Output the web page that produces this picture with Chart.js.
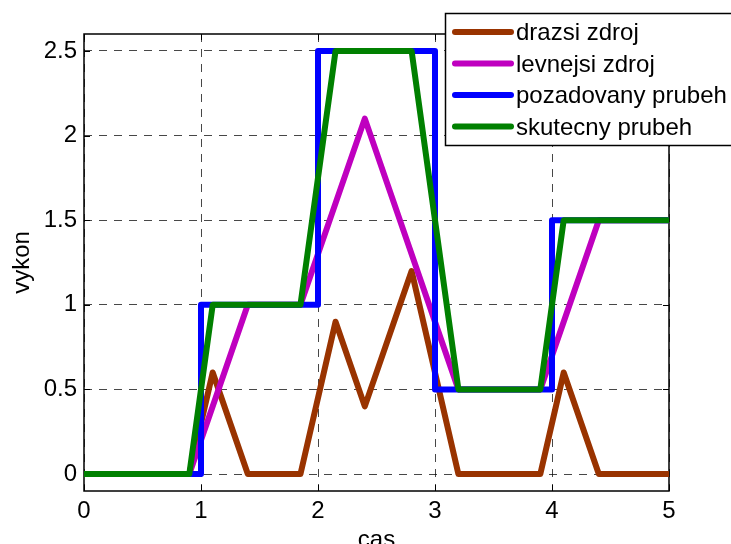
<!DOCTYPE html>
<html>
<head>
<meta charset="utf-8">
<script src="https://cdn.jsdelivr.net/npm/chart.js@4"></script>
<style>
  html, body { margin: 0; padding: 0; background: #fff; overflow: hidden; }
  #wrap { width: 731px; height: 560px; }
</style>
</head>
<body>
<div id="wrap"><canvas id="line-chart" width="731" height="560"></canvas></div>
<script>
// casove okamziky a hodnoty vykonu jednotlivych prubehu
const casDrazsi = [0, 0.9, 1.1, 1.4, 1.85, 2.15, 2.4, 2.8, 3.2, 3.9, 4.1, 4.4, 5]
const drazsiZdroj = [0, 0, 0.6, 0, 0, 0.9, 0.4, 1.2, 0, 0, 0.6, 0, 0]

const casLevnejsi = [0, 0.9, 1.4, 1.85, 2.4, 3.2, 3.9, 4.4, 5]
const levnejsiZdroj = [0, 0, 1, 1, 2.1, 0.5, 0.5, 1.5, 1.5]

const casPozadovany = [0, 1, 1, 2, 2, 3, 3, 4, 4, 5]
const pozadovanyPrubeh = [0, 0, 1, 1, 2.5, 2.5, 0.5, 0.5, 1.5, 1.5]

const casSkutecny = [0, 0.9, 1.1, 1.85, 2.15, 2.8, 3.2, 3.9, 4.1, 5]
const skutecnyPrubeh = [0, 0, 1, 1, 2.5, 2.5, 0.5, 0.5, 1.5, 1.5]

const xTicks = [0, 1, 2, 3, 4, 5]
const yTicks = [0, 0.5, 1, 1.5, 2, 2.5]
const labels = ['drazsi zdroj', 'levnejsi zdroj', 'pozadovany prubeh', 'skutecny prubeh']

const FONT = "'Liberation Sans', Arial, sans-serif"
const toPoints = (xs, ys) => xs.map((x, i) => ({ x, y: ys[i] }))

// ramecek os + male tiky dovnitr
const framePlugin = {
  id: 'frame',
  beforeDatasetsDraw(chart) {
    const { ctx, chartArea: a, scales: { x, y } } = chart
    ctx.save()
    ctx.strokeStyle = '#000'
    ctx.lineWidth = 1.5
    ctx.strokeRect(a.left, a.top, a.right - a.left, a.bottom - a.top)
    ctx.lineWidth = 1
    ctx.beginPath()
    xTicks.forEach(v => {
      const px = Math.round(x.getPixelForValue(v)) + 0.5
      ctx.moveTo(px, a.bottom); ctx.lineTo(px, a.bottom - 6)
      ctx.moveTo(px, a.top); ctx.lineTo(px, a.top + 6)
    })
    yTicks.forEach(v => {
      const py = Math.round(y.getPixelForValue(v)) + 0.5
      ctx.moveTo(a.left, py); ctx.lineTo(a.left + 6, py)
      ctx.moveTo(a.right, py); ctx.lineTo(a.right - 6, py)
    })
    ctx.stroke()
    ctx.restore()
  }
}

// legenda v pravem hornim rohu (presahuje okraj jako v originale)
const legendPlugin = {
  id: 'boxLegend',
  afterDraw(chart) {
    const { ctx } = chart
    const left = 445.5, top = 13.5, bottom = 145.5
    ctx.save()
    ctx.fillStyle = '#fff'
    ctx.fillRect(left, top, 400, bottom - top)
    ctx.strokeStyle = '#000'
    ctx.lineWidth = 1.5
    ctx.strokeRect(left, top, 400, bottom - top)
    ctx.font = `24px ${FONT}`
    ctx.textBaseline = 'alphabetic'
    ctx.textAlign = 'left'
    chart.data.datasets.forEach((ds, i) => {
      const ly = 32 + i * 31.5
      ctx.strokeStyle = ds.borderColor
      ctx.lineWidth = 6
      ctx.lineCap = 'round'
      ctx.beginPath()
      ctx.moveTo(455, ly); ctx.lineTo(511, ly)
      ctx.stroke()
      ctx.fillStyle = '#000'
      ctx.fillText(ds.label, 516, ly + 8)
    })
    ctx.restore()
  }
}

const $canvas = document.getElementById('line-chart')

const common = { borderWidth: 6, pointRadius: 0, fill: false, tension: 0, borderJoinStyle: 'round', borderCapStyle: 'butt' }

new Chart($canvas, {
  type: 'line',
  data: {
    datasets: [
      { ...common, label: labels[0], borderColor: '#993300', data: toPoints(casDrazsi, drazsiZdroj), order: 4 },
      { ...common, label: labels[1], borderColor: '#bf00bf', data: toPoints(casLevnejsi, levnejsiZdroj), order: 3 },
      { ...common, label: labels[2], borderColor: '#0000ff', data: toPoints(casPozadovany, pozadovanyPrubeh), order: 2 },
      { ...common, label: labels[3], borderColor: '#008000', data: toPoints(casSkutecny, skutecnyPrubeh), order: 1 },
    ]
  },
  options: {
    responsive: false,
    animation: false,
    layout: { padding: { top: 34, right: 62, left: 0, bottom: 0 } },
    plugins: { legend: { display: false }, tooltip: { enabled: false } },
    scales: {
      x: {
        type: 'linear',
        min: 0,
        max: 5,
        afterBuildTicks: s => { s.ticks = xTicks.map(value => ({ value })) },
        afterFit: s => { s.height = 69 },
        ticks: { color: '#000', font: { family: FONT, size: 24 }, padding: 6, maxRotation: 0, callback: v => v },
        grid: { color: 'rgba(0,0,0,0.72)', lineWidth: 1, drawTicks: false },
        border: { display: false, dash: [8, 7] },
        title: { display: true, text: 'cas', color: '#000', font: { family: FONT, size: 24 }, padding: { top: 0, bottom: 5 } }
      },
      y: {
        min: -0.1,
        max: 2.6,
        afterBuildTicks: s => { s.ticks = yTicks.map(value => ({ value })) },
        afterFit: s => { s.width = 84 },
        ticks: { color: '#000', font: { family: FONT, size: 24 }, padding: 7, callback: v => v },
        grid: { color: 'rgba(0,0,0,0.72)', lineWidth: 1, drawTicks: false },
        border: { display: false, dash: [8, 7] },
        title: { display: true, text: 'vykon', color: '#000', font: { family: FONT, size: 24 }, padding: { top: 8, bottom: 0 } }
      }
    }
  },
  plugins: [framePlugin, legendPlugin]
})
</script>
</body>
</html>
